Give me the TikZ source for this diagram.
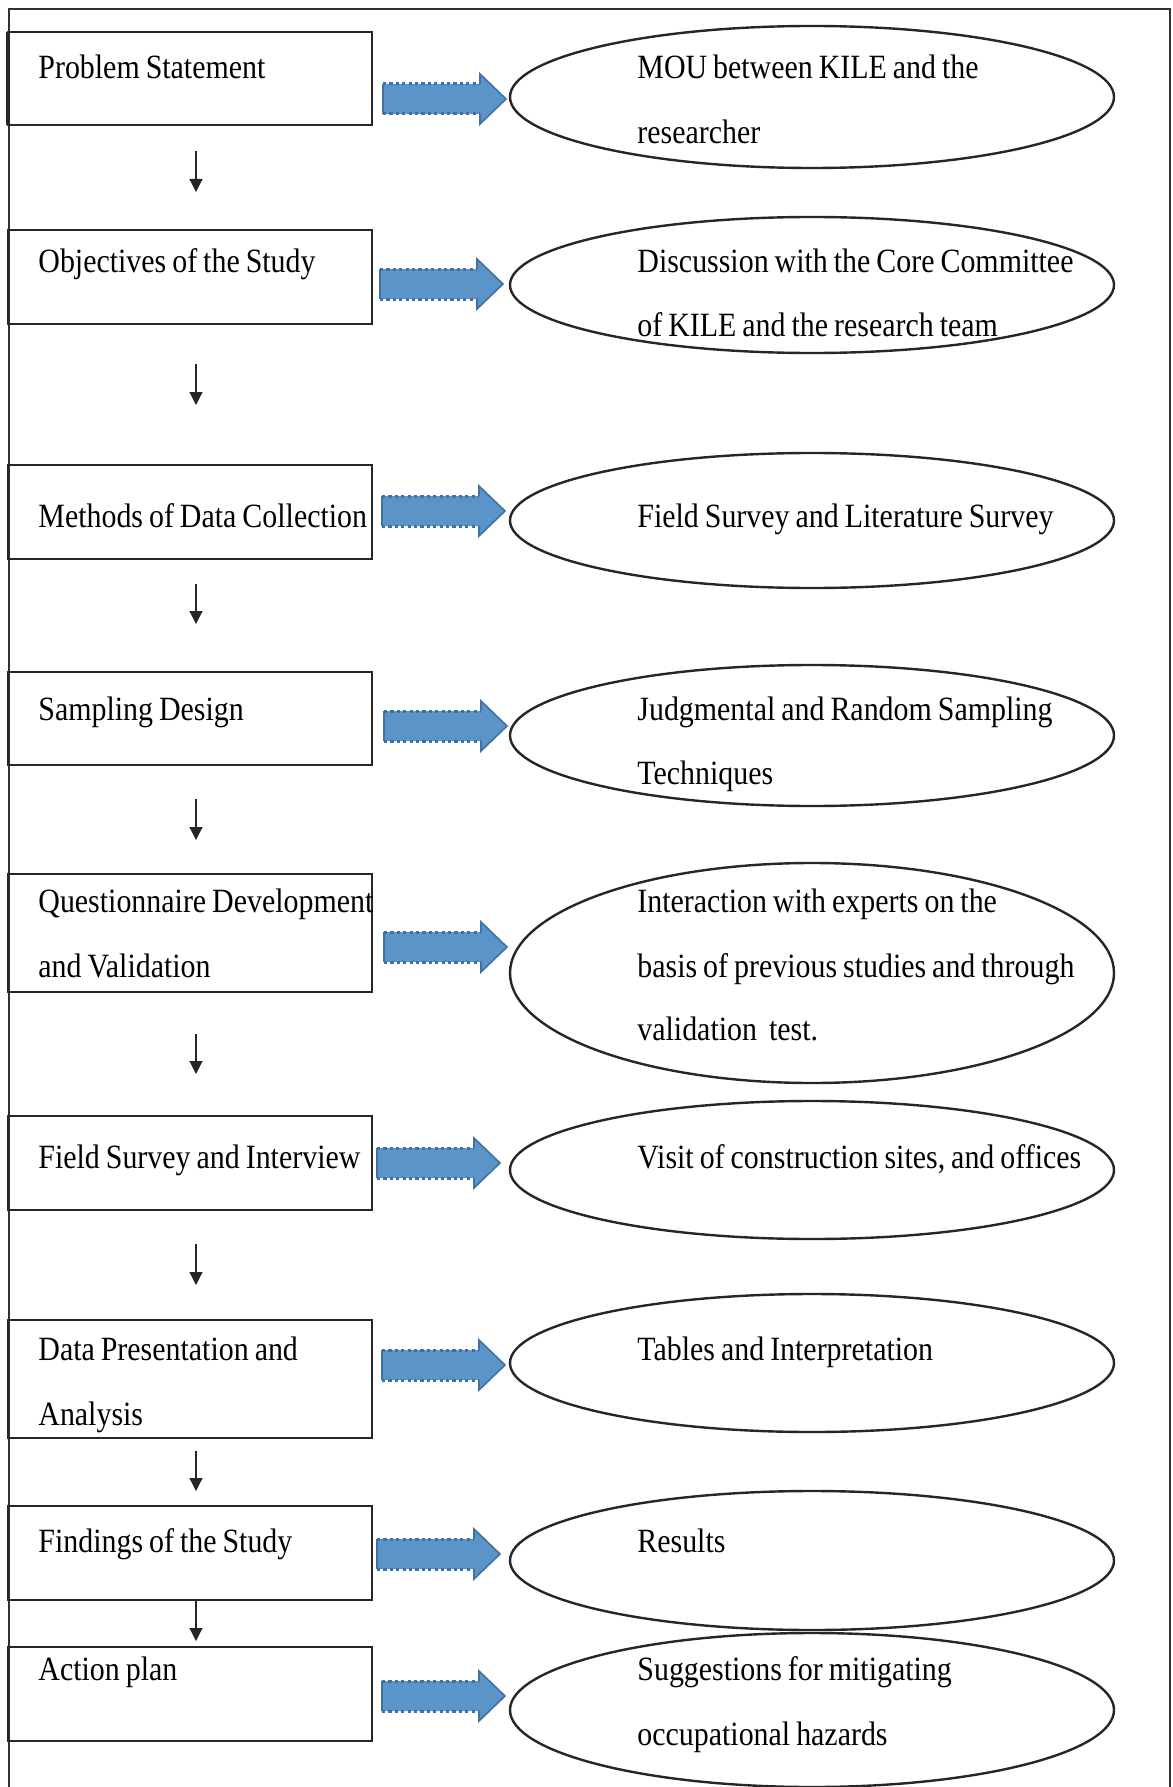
\documentclass[tikz,border=0pt]{standalone}
\usepackage{fontspec}
\setmainfont{Liberation Serif}[FakeStretch=0.88,WordSpace=0.8]
\usetikzlibrary{arrows.meta,shapes.geometric,calc}
\definecolor{arrfillc}{RGB}{91,148,201}
\definecolor{arredgec}{RGB}{65,113,160}
\definecolor{framec}{RGB}{50,50,50}
\newcommand\blueArr[2]{%
  \fill[arrfillc] (#1,#2-15) -- (#1+97,#2-15) -- (#1+97,#2-25) -- (#1+123,#2) -- (#1+97,#2+25) -- (#1+97,#2+15) -- (#1,#2+15) -- cycle;
  \draw[arredgec, line width=1.5pt, dash pattern=on 1.6pt off 1.6pt] (#1,#2-15) -- (#1+97,#2-15);
  \draw[arredgec, line width=1.5pt, dash pattern=on 1.6pt off 1.6pt] (#1,#2+15) -- (#1+97,#2+15);
  \draw[arredgec, line width=0.8pt, line join=miter] (#1+97,#2-15) -- (#1+97,#2-25) -- (#1+123,#2) -- (#1+97,#2+25) -- (#1+97,#2+15);
  \draw[arredgec, line width=0.8pt] (#1,#2-15) -- (#1,#2+15);
}
\begin{document}
\begin{tikzpicture}[x=0.5pt,y=-0.5pt,
  procbox/.style={draw=black!85, line width=1pt, rectangle, minimum width=182pt, inner sep=0pt},
  outbox/.style={draw=black!85, line width=1.2pt, ellipse, minimum width=302pt, inner sep=0pt},
  txt/.style={anchor=base west, inner sep=0pt, font=\fontsize{17}{20}\selectfont},
  darr/.style={draw=black!85, line width=0.6pt, -{Triangle[width=6.5pt,length=6.5pt]}}]
\useasboundingbox (0,0) rectangle (1172,1787);
\draw[framec, line width=1pt] (9,1800) -- (9,9) -- (1170,9) -- (1170,1800);
% process boxes
\node[procbox, minimum height=46.5pt] (b1) at (190,78.5) {};
\node[procbox, minimum height=47pt] (b2) at (190,277) {};
\node[procbox, minimum height=47pt] (b3) at (190,512) {};
\node[procbox, minimum height=46.5pt] (b4) at (190,718.5) {};
\node[procbox, minimum height=59pt] (b5) at (190,933) {};
\node[procbox, minimum height=47pt] (b6) at (190,1163) {};
\node[procbox, minimum height=59pt] (b7) at (190,1379) {};
\node[procbox, minimum height=47pt] (b8) at (190,1553) {};
\node[procbox, minimum height=47pt] (b9) at (190,1694) {};
\draw[black!85, line width=1.6pt] (8,32) -- (8,125);
% ellipses
\node[outbox, minimum height=71pt] (e1) at (812,97) {};
\node[outbox, minimum height=68pt] (e2) at (812,285) {};
\node[outbox, minimum height=67.5pt] (e3) at (812,520.5) {};
\node[outbox, minimum height=70.5pt] (e4) at (812,735.5) {};
\node[outbox, minimum height=110pt] (e5) at (812,973) {};
\node[outbox, minimum height=69pt] (e6) at (812,1170) {};
\node[outbox, minimum height=69pt] (e7) at (812,1363) {};
\node[outbox, minimum height=69.5pt] (e8) at (812,1560.5) {};
\node[outbox, minimum height=77pt] (e9) at (812,1710) {};
% box texts
\node[txt] (t1) at (38,79) {Problem Statement};
\node[txt] (t2) at (38,272) {Objectives of the Study};
\node[txt] (t3) at (38,527) {Methods of Data Collection};
\node[txt] (t4) at (38,720) {Sampling Design};
\node[txt] (t5a) at (38,912) {Questionnaire Development};
\node[txt] (t5b) at (38,977) {and Validation};
\node[txt] (t6) at (38,1168) {Field Survey and Interview};
\node[txt] (t7a) at (38,1360) {Data Presentation and};
\node[txt] (t7b) at (38,1425) {Analysis};
\node[txt] (t8) at (38,1552) {Findings of the Study};
\node[txt] (t9) at (38,1680) {Action plan};
% ellipse texts
\node[txt] (u1a) at (637,79) {MOU between KILE and the};
\node[txt] (u1b) at (637,144) {researcher};
\node[txt] (u2a) at (637,272) {Discussion with the Core Committee};
\node[txt] (u2b) at (637,336) {of KILE and the research team};
\node[txt] (u3) at (637,527) {Field Survey and Literature Survey};
\node[txt] (u4a) at (637,720) {Judgmental and Random Sampling};
\node[txt] (u4b) at (637,784) {Techniques};
\node[txt] (u5a) at (637,912) {Interaction with experts on the};
\node[txt] (u5b) at (637,977) {basis of previous studies and through};
\node[txt] (u5c) at (637,1040) {validation\ \ test.};
\node[txt] (u6) at (637,1168) {Visit of construction sites, and offices};
\node[txt] (u7) at (637,1360) {Tables and Interpretation};
\node[txt] (u8) at (637,1552) {Results};
\node[txt] (u9a) at (637,1680) {Suggestions for mitigating};
\node[txt] (u9b) at (637,1745) {occupational hazards};
% blue arrows
\blueArr{383}{99}
\blueArr{380}{284}
\blueArr{382}{511}
\blueArr{384}{726}
\blueArr{384}{947}
\blueArr{377}{1163}
\blueArr{382}{1365}
\blueArr{377}{1554}
\blueArr{382}{1696}
% down arrows
\draw[darr, shorten <=12.5pt, shorten >=18.5pt] ([xshift=3pt]b1.south) -- ([xshift=3pt]b2.north);
\draw[darr, shorten <=19.5pt, shorten >=29.5pt] ([xshift=3pt]b2.south) -- ([xshift=3pt]b3.north);
\draw[darr, shorten <=12pt, shorten >=23.5pt] ([xshift=3pt]b3.south) -- ([xshift=3pt]b4.north);
\draw[darr, shorten <=16.5pt, shorten >=16.5pt] ([xshift=3pt]b4.south) -- ([xshift=3pt]b5.north);
\draw[darr, shorten <=20.5pt, shorten >=20.5pt] ([xshift=3pt]b5.south) -- ([xshift=3pt]b6.north);
\draw[darr, shorten <=16.5pt, shorten >=17pt] ([xshift=3pt]b6.south) -- ([xshift=3pt]b7.north);
\draw[darr, shorten <=6pt, shorten >=7pt] ([xshift=3pt]b7.south) -- ([xshift=3pt]b8.north);
\draw[darr, shorten >=2.5pt] ([xshift=3pt]b8.south) -- ([xshift=3pt]b9.north);
\end{tikzpicture}
\end{document}
